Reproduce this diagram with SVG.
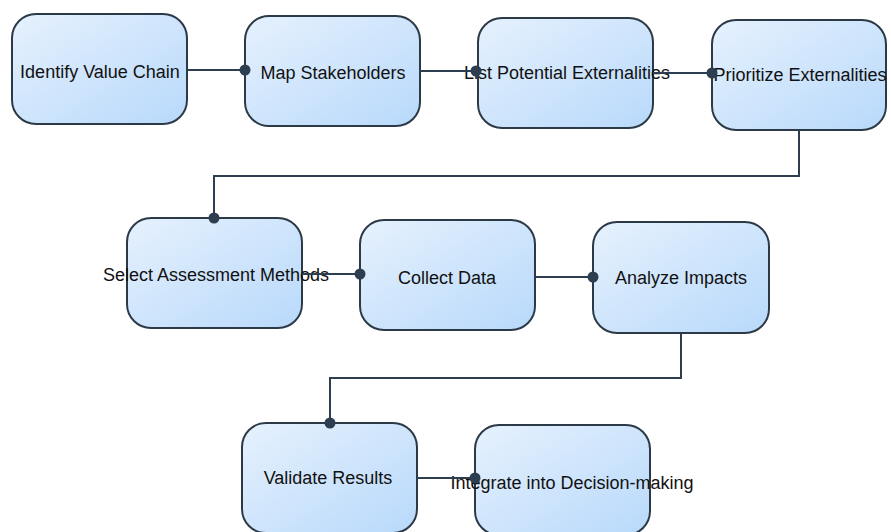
<svg xmlns="http://www.w3.org/2000/svg" width="891" height="532" viewBox="0 0 891 532">
<defs>
<linearGradient id="g" x1="0" y1="0" x2="1" y2="1">
<stop offset="0" stop-color="#e6f1fd"/>
<stop offset="1" stop-color="#b8d9fb"/>
</linearGradient>
<marker id="dot" markerWidth="12" markerHeight="12" refX="6" refY="6" markerUnits="userSpaceOnUse">
<circle cx="6" cy="6" r="5.5" fill="#2c3e50"/>
</marker>
</defs>
<style>
.n rect{fill:url(#g);stroke:#2c3a48;stroke-width:2}
.n text{font-family:"Liberation Sans",Arial,sans-serif;font-size:18px;fill:#111;text-anchor:middle}
.c path{fill:none;stroke:#2c3e50;stroke-width:2;marker-end:url(#dot)}
</style>
<rect width="891" height="532" fill="#fff"/>
<g id="n1" class="n"><rect x="12" y="14" width="175" height="110" rx="24"/><text x="100" y="78">Identify Value Chain</text></g>
<g id="n2" class="n"><rect x="245" y="16" width="175" height="110" rx="24"/><text x="333" y="79">Map Stakeholders</text></g>
<g id="n3" class="n"><rect x="478" y="18" width="175" height="110" rx="24"/><text x="567" y="79">List Potential Externalities</text></g>
<g id="n4" class="n"><rect x="712" y="20" width="174" height="110" rx="24"/><text x="800" y="81">Prioritize Externalities</text></g>
<g id="n5" class="n"><rect x="127" y="218" width="175" height="110" rx="24"/><text x="216" y="281">Select Assessment Methods</text></g>
<g id="n6" class="n"><rect x="360" y="220" width="175" height="110" rx="24"/><text x="447" y="284">Collect Data</text></g>
<g id="n7" class="n"><rect x="593" y="222" width="176" height="111" rx="24"/><text x="681" y="284">Analyze Impacts</text></g>
<g id="n8" class="n"><rect x="242" y="423" width="175" height="110" rx="24"/><text x="328" y="484">Validate Results</text></g>
<g id="n9" class="n"><rect x="475" y="425" width="175" height="110" rx="24"/><text x="572" y="489">Integrate into Decision-making</text></g>
<g class="c">
<path d="M187 70 H245"/>
<path d="M420 71 H476"/>
<path d="M653 73 H712"/>
<path d="M799 130 V176 H214 V218"/>
<path d="M302 274 H360"/>
<path d="M535 277 H593"/>
<path d="M681 333 V378 H330 V423"/>
<path d="M417 478 H475"/>
</g>
</svg>
